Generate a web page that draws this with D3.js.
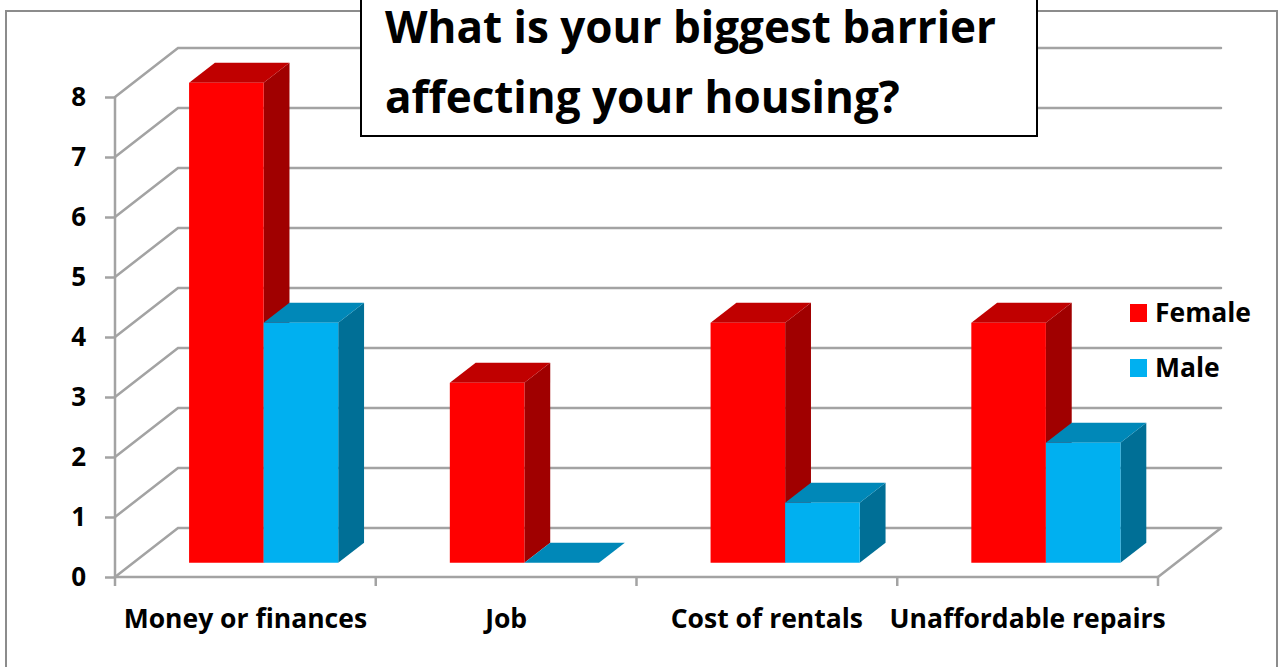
<!DOCTYPE html>
<html>
<head>
<meta charset="utf-8">
<script src="https://cdn.jsdelivr.net/npm/d3@7"></script>
<style>
  html, body { margin: 0; padding: 0; background: #fff; }
  svg { display: block; font-family: "Open Sans", sans-serif; }
</style>
</head>
<body>
<svg id="chart" width="1279" height="667"></svg>
<script>
// Survey answers: biggest barrier affecting housing
const categories = ["Money or finances", "Job", "Cost of rentals", "Unaffordable repairs"];
const seriesNames = ["Female", "Male"];
const femaleValues = [8, 3, 4, 4];
const maleValues = [4, 0, 1, 2];
const yTicks = [0, 1, 2, 3, 4, 5, 6, 7, 8];
const titleLines = ["What is your biggest barrier", "affecting your housing?"];

const seriesValues = [femaleValues, maleValues];
const colors = {
  Female: { front: "#ff0000", top: "#c00000", side: "#a00000" },
  Male:   { front: "#00b0f0", top: "#0088b8", side: "#006f96" }
};
const FONT = "'Open Sans', sans-serif";

const svg = d3.select("#chart");

// Front plane of the 3D box and the depth projection
const plot = { left: 115, right: 1158, top: 97, bottom: 577 };
const depth = { dx: 63, dy: -49 };
const barDepth = { from: 0.29, to: 0.70 };

const x = d3.scaleBand().domain(categories).range([plot.left, plot.right]).paddingInner(0).paddingOuter(0);
const groupW = x.bandwidth() * 0.572;
const xs = d3.scaleBand().domain(seriesNames).range([0, groupW]);
const y = d3.scaleLinear().domain([0, 8]).range([plot.bottom, plot.top]);

// project a point (screen-x on front plane, value, depth fraction)
const P = (px, v, d) => [px + d * depth.dx, y(v) + d * depth.dy];

// Outer chart frame
svg.append("rect")
  .attr("x", 6).attr("y", 11).attr("width", 1271).attr("height", 700)
  .attr("fill", "#fff").attr("stroke", "#8c8c8c").attr("stroke-width", 2);

const grid = svg.append("g")
  .attr("stroke", "#a3a3a3").attr("stroke-width", 2.5).attr("fill", "none")
  .attr("stroke-linecap", "round");

// back wall gridlines and left wall diagonals
yTicks.forEach(v => {
  const a = P(plot.left, v, 0), b = P(plot.left, v, 1), c = P(plot.right, v, 1);
  grid.append("path").attr("d", `M${a}L${b}L${c}`);
});
// floor right edge
{
  const a = P(plot.right, 0, 0), b = P(plot.right, 0, 1);
  grid.append("path").attr("d", `M${a}L${b}`);
}

// Front y axis
const yAxisG = svg.append("g").attr("transform", `translate(${plot.left},0)`)
  .call(d3.axisLeft(y).tickValues(yTicks).tickSize(10).tickPadding(19).tickFormat(d3.format("d")));
yAxisG.select(".domain").attr("stroke", "#a3a3a3").attr("stroke-width", 2.5).attr("d", `M0,${plot.top}V${plot.bottom}`);
yAxisG.selectAll(".tick line").attr("stroke", "#a3a3a3").attr("stroke-width", 2.5);
yAxisG.selectAll(".tick text").attr("font-size", 26).attr("font-weight", 700).attr("fill", "#000")
  .attr("font-family", FONT);

// Front x axis
const xEdges = categories.map(c => x(c)).concat([plot.right]);
const xAxisG = svg.append("g").attr("transform", `translate(0,${plot.bottom})`);
xAxisG.append("line").attr("x1", plot.left).attr("x2", plot.right)
  .attr("stroke", "#a3a3a3").attr("stroke-width", 2.5);
xAxisG.selectAll("line.tk").data(xEdges).join("line").attr("class", "tk")
  .attr("x1", d => d).attr("x2", d => d).attr("y1", 0).attr("y2", 9)
  .attr("stroke", "#a3a3a3").attr("stroke-width", 2.5);
xAxisG.selectAll("text").data(categories).join("text")
  .attr("x", d => x(d) + x.bandwidth() / 2).attr("y", 51)
  .attr("text-anchor", "middle").attr("font-size", 26.5).attr("font-weight", 700)
  .attr("fill", "#000").attr("font-family", FONT)
  .text(d => d);

// 3D bars, drawn left to right so neighbours overlap correctly
const bars = [];
categories.forEach((c, i) => {
  seriesNames.forEach((s, j) => {
    bars.push({ cat: c, series: s, value: seriesValues[j][i] });
  });
});
const barsG = svg.append("g");
const poly = pts => "M" + pts.map(p => p.join(",")).join("L") + "Z";
bars.forEach(b => {
  const x0 = x(b.cat) + (x.bandwidth() - groupW) / 2 + xs(b.series);
  const x1 = x0 + xs.bandwidth();
  const d0 = barDepth.from, d1 = barDepth.to;
  const col = colors[b.series];
  const g = barsG.append("g");
  // right side
  g.append("path").attr("fill", col.side)
    .attr("d", poly([P(x1, 0, d0), P(x1, 0, d1), P(x1, b.value, d1), P(x1, b.value, d0)]));
  // top
  g.append("path").attr("fill", col.top)
    .attr("d", poly([P(x0, b.value, d0), P(x0, b.value, d1), P(x1, b.value, d1), P(x1, b.value, d0)]));
  // front
  g.append("path").attr("fill", col.front)
    .attr("d", poly([P(x0, 0, d0), P(x0, b.value, d0), P(x1, b.value, d0), P(x1, 0, d0)]));
});

// Legend
const legend = svg.append("g");
seriesNames.forEach((s, i) => {
  const ly = 313 + i * 55;
  legend.append("rect").attr("x", 1130).attr("y", ly - 9).attr("width", 17).attr("height", 18)
    .attr("fill", colors[s].front);
  legend.append("text").attr("x", 1155).attr("y", ly).attr("dy", "0.35em")
    .attr("font-size", 26.5).attr("font-weight", 700).attr("fill", "#000")
    .attr("font-family", FONT).text(s);
});

// Title box
svg.append("rect").attr("x", 361).attr("y", -5).attr("width", 676).attr("height", 141)
  .attr("fill", "#fff").attr("stroke", "#000").attr("stroke-width", 2);
svg.append("g").selectAll("text").data(titleLines).join("text")
  .attr("x", 385).attr("y", (d, i) => 43 + i * 70)
  .attr("font-size", 44).attr("font-weight", 700).attr("fill", "#000")
  .attr("font-family", FONT)
  .text(d => d);
</script>
</body>
</html>
